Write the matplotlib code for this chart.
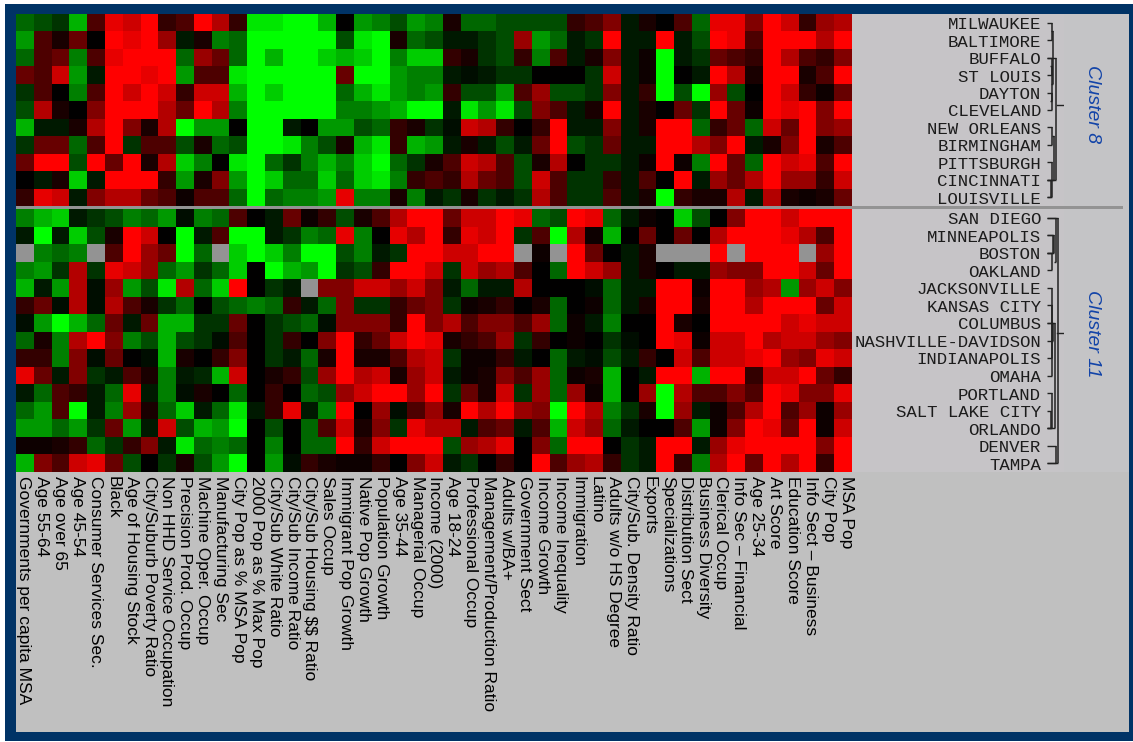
import numpy as np
import matplotlib
matplotlib.use("Agg")
import matplotlib.pyplot as plt
from matplotlib.colors import LinearSegmentedColormap
from matplotlib.patches import Rectangle

n = np.nan
variables = ["Governments per capita MSA", "Age 55-64", "Age over 65", "Age 45-54", "Consumer Services Sec.",
             "Black", "Age of Housing Stock", "City/Suburb Poverty Ratio", "Non HHD Service Occupation",
             "Precision Prod. Occup", "Machine Oper. Occup", "Manufacturing Sec", "City Pop as % MSA Pop",
             "2000 Pop as % Max Pop", "City/Sub White Ratio", "City/Sub Income Ratio", "City/Sub Housing $$ Ratio",
             "Sales Occup", "Immigrant Pop Growth", "Native Pop Growth", "Population Growth", "Age 35-44",
             "Managerial Occup", "Income (2000)", "Age 18-24", "Professional Occup", "Management/Production Ratio",
             "Adults w/BA+", "Government Sect", "Income Growth", "Income Inequality", "Immigration", "Latino",
             "Adults w/o HS Degree", "City/Sub. Density Ratio", "Exports", "Specializations", "Distribution Sect",
             "Business Diversity", "Clerical Occup", "Info Sec \u2013 Financial", "Age 25-34", "Art Score",
             "Education Score", "Info Sect \u2013 Business", "City Pop", "MSA Pop"]

cities_8 = ["MILWAUKEE", "BALTIMORE", "BUFFALO", "ST LOUIS", "DAYTON", "CLEVELAND", "NEW ORLEANS",
            "BIRMINGHAM", "PITTSBURGH", "CINCINNATI", "LOUISVILLE"]
cities_11 = ["SAN DIEGO", "MINNEAPOLIS", "BOSTON", "OAKLAND", "JACKSONVILLE", "KANSAS CITY", "COLUMBUS",
             "NASHVILLE-DAVIDSON", "INDIANAPOLIS", "OMAHA", "PORTLAND", "SALT LAKE CITY", "ORLANDO", "DENVER", "TAMPA"]

# values in tenths: positive = red, negative = green
milwaukee = [-4,-3,-2,-7,3,9,8,10,2,3,10,7,2,-9,-9,-10,-10,-7,0,-6,-5,-3,-6,-5,1,-4,-4,-3,-3,-3,-3,2,3,5,-1,1,0,3,-4,9,9,5,10,8,2,6,7]
baltimore = [-6,3,1,4,0,10,9,10,6,-1,1,-5,-4,-10,-10,-10,-10,-10,-3,-9,-10,1,-4,-3,-1,-1,-2,-3,6,-6,-4,-1,-2,10,-1,-1,10,-1,-3,10,9,3,10,10,10,7,10]
buffalo = [-4,3,4,-5,3,9,10,10,10,-4,6,4,-4,-10,-7,-10,-10,-8,-7,-8,-10,-5,-8,-8,2,1,-2,-3,2,-5,3,-1,1,5,-1,.5,-10,-1,-2,4,3,2,10,7,3,2,5]
st_louis = [4,3,8,-6,-1,10,10,9,10,-6,3,3,-9,-10,-10,-10,-10,-10,4,-10,-10,-6,-5,-5,-1,-.5,-1,-2,-2,0,0,0,-2,8,-1,.5,-10,0,-1,10,7,1,10,10,1,3,10]
dayton = [-2,3,0,-5,3,10,8,10,8,2,8,8,-7,-10,-8,-10,-10,-10,-4,-7,-9,-6,-5,-6,2,-3,-3,-6,3,6,-3,-3,-2,5,-1,2,-10,-3,-10,6,-3,0,10,8,2,.5,4]
cleveland = [-3,7,1,0,5,10,10,10,7,4,10,7,-5,-10,-10,-10,-10,-10,-5,-5,-6,-7,-10,-10,-1,-9,-6,-9,-3,5,3,-1,1,10,-1,1,0,4,-2,10,4,.5,10,9,10,5,10]
new_orleans = [-7,-1,-1,1,7,10,5,1,7,-10,-6,-6,0,-10,-10,-1,0,-6,-6,-3,-4,2,1,-2,-.5,8,7,2,0,2,10,-1,-1,5,-1,1,10,10,-4,2,4,-4,8,4,10,5,6]
birmingham = [-2,4,4,-4,3,10,-2,3,3,-3,1,-4,-3,-10,-10,-9,-5,-3,1,-7,-9,2,-7,-6,-1,1,-1,-3,-1,4,10,-3,-2,4,-1,-1,10,10,7,5,10,-1,1,5,10,1,3]
pittsburgh = [4,10,10,-3,10,4,10,1,7,-8,-5,0,-9,-10,-4,-2,-5,-7,-5,-8,-10,-4,-2,1,3,8,7,3,-3,1,7,0,-2,-2,-1,.5,10,.5,-5,10,4,-4,10,8,9,3,10]
cincinnati = [0,-1,1,-8,-1,10,10,10,2,-6,1,5,-6,-10,-8,-4,-4,-8,-4,-8,-9,-5,2,3,2,7,4,3,-3,8,3,-2,-2,2,-1,3,0,10,-1,6,4,7,10,6,6,2,8]
louisville = [2,9,8,-1,5,7,7,4,3,.5,3,3,-4,-10,-4,-5,-5,-6,9,-5,-5,1,-5,-1,-2,1,-2,-1,-2,7,3,-2,-2,3,-1,1,-10,2,1,1,7,-1,7,1,.5,1,4]

san_diego = [-5,-7,-8,-1,-2,-3,-5,-4,-6,-.5,-5,-4,3,0,-1,4,.5,2,-3,1,3,7,10,10,4,8,8,10,9,-4,-3,10,9,-4,-1,.5,0,-8,-3,0,5,10,10,8,10,10,10]
minneapolis = [-1,-10,-1,-8,-3,1,10,8,0,-10,-1,3,-10,-10,-1,-2,-5,-4,9,-5,0,9,7,10,2,9,8,10,-2,3,-10,7,.5,-7,0,4,0,4,0,7,10,10,10,9,7,3,10]
boston = [n,-5,-4,-5,n,3,10,6,4,-10,-4,n,-8,-10,-8,-5,-10,-10,-3,-5,-1,-2,10,10,8,8,10,10,n,.5,n,10,4,0,-1,1,n,n,n,10,n,10,10,10,n,6,10]
oakland = [-5,-6,-2,7,-2,9,8,6,-4,-6,-2,-4,-8,0,-10,-7,-6,-10,-2,-3,2,10,10,8,-2,8,6,7,3,0,-4,10,8,6,-1,1,0,-1,-1,6,5,5,10,10,8,4,10]
jacksonville = [-7,-1,-6,7,-.5,6,-6,-3,-9,7,-4,-8,10,0,-2,-1,n,5,5,8,8,6,8,5,-1,-4,-1,-1,7,0,0,0,-.5,-4,-1,-1,10,10,.5,10,10,6,7,-6,6,8,5]
kansas_city = [2,4,-.5,7,-.5,7,3,1,-2,-4,0,-3,-4,-5,-4,2,-1,-4,5,-2,-2,2,4,5,-2,.5,1,2,0,1,-4,0,.5,-4,-1,1,10,10,1,10,10,7,10,10,10,4,8]
columbus = [-.5,-6,-10,-7,-4,4,-1,4,-7,-7,-2,-2,4,0,-2,-3,-4,-.5,5,5,5,2,10,5,7,3,5,5,3,6,-4,.5,-1,-5,0,0,10,1,0,10,10,10,10,8,9,8,8]
nashville = [-4,1,-5,7,10,5,-5,-3,-7,-3,-2,-.5,3,0,-2,2,0,5,10,2,4,8,10,9,1,2,3,6,-2,2,0,.5,0,-2,-.5,0,10,9,.5,8,8,10,7,8,8,6,5]
indianapolis = [2,2,-5,5,-.5,4,0,-.5,-7,1,0,2,5,0,-2,-1,-4,1,10,1,1,3,7,8,-2,.5,.5,2,-1,0,-4,-1,-.5,-3,-1,2,0,8,3,8,8,9,10,6,5,9,8]
omaha = [9,4,-1,5,-2,-1,3,1,-5,-1,-1.5,-7,8,0,1,2,-3,6,10,7,8,1,6,8,-1,.5,1,5,3,6,-4,.5,1,-7,0,-1,10,10,-7,10,10,2,8,8,10,4,2]
portland = [-1,-4,3,2,-1,-4,9,-1,-5,-.5,1,0,-4,0,2,0,-4,-3,6,8,10,10,6,10,-2,4,1,8,-2,6,-4,6,.5,-7,0,6,-10,7,3,3,5,3,10,9,5,5,9]
salt_lake = [-4,-6,3,-10,-1,-5,6,1,-4,-8,-1,-4,-9,-1,2,9,-1,-5,10,0,6,-.5,3,6,1,10,7,10,6,5,-10,10,7,-5,-2,1,-10,6,-1,.5,3,7,10,3,6,.5,6]
orlando = [-6,-6,-4,-6,-2,4,-6,-1,8,-3,-7,-6,-10,0,-3,0,-4,3,8,1,5,-2,9,7,7,-1,3,4,-1,3,-7,8,6,-4,-1,0,0,3,-6,.5,5,10,9,4,10,.5,8]
denver = [.5,.5,1,2,-4,-2,2,5,-1,-9,-4,-5,-4,0,-5,0,-4,-4,10,2,8,10,10,10,-3,6,7,9,0,5,-4,10,10,0,-2,-1,10,10,-1,6,9,10,10,10,10,5,10]
tampa = [-7,5,3,8,9,4,-3,0,-2,1,-3,-6,-10,0,-6,-.5,2,1,.5,.5,2,0,5,8,-1,-2,0,2,0,10,3,6,7,2,-2,-1,10,2,-5,7,10,4,10,7,10,2,10]

cluster_8 = [milwaukee, baltimore, buffalo, st_louis, dayton, cleveland, new_orleans, birmingham,
             pittsburgh, cincinnati, louisville]
cluster_11 = [san_diego, minneapolis, boston, oakland, jacksonville, kansas_city, columbus, nashville,
              indianapolis, omaha, portland, salt_lake, orlando, denver, tampa]

# dendrogram brackets: first row, last row, level
tree_8 = [(0, 1, 1), (2, 3, 1), (4, 5, 1), (0.5, 3.5, 1.5), (2.5, 4.5, 1), (6, 7, 1), (8, 10, 1),
          (9, 10, .5), (6.5, 9, 2), (2, 9, 3)]
tree_11 = [(0, 2.5, 3), (1, 2, 1.5), (2, 3, 1), (1, 2, 2), (4, 9, 1), (5, 8, 1.2), (6, 7, 1.5),
           (10, 12, 1), (11, 12, .7), (6, 12, 2.5), (13, 14, 3), (0, 14, 3.5)]
root_8 = 4.7
root_11 = 6.6

W, H = 1133, 742
fig = plt.figure(figsize=(W / 100, H / 100), dpi=100, facecolor="white")


def axes_px(x0, y0, x1, y1, **kw):
    return fig.add_axes([x0 / W, 1 - y1 / H, (x1 - x0) / W, (y1 - y0) / H], **kw)


bg = axes_px(0, 0, W, H)
bg.set_xlim(0, W)
bg.set_ylim(H, 0)
bg.axis("off")
bg.add_patch(Rectangle((5, 4), W - 5, H - 5, fc="#003366", ec="none"))
bg.add_patch(Rectangle((16, 14), 1113, 718, fc="#c0c0c0", ec="none"))
bg.add_patch(Rectangle((852, 14), 212, 458, fc="#c6c4c7", ec="none"))
bg.add_patch(Rectangle((1064, 14), 65, 458, fc="#c4c4c6", ec="none"))
bg.add_patch(Rectangle((16, 206), 1107, 3, fc="#939393", ec="none"))

cmap = LinearSegmentedColormap.from_list("rg", ["#00ff00", "#000000", "#ff0000"])
cmap.set_bad("#939393")

X0, X1 = 16, 852
MONO = "Liberation Mono"
DEND0, STEP = 1047, 2.2


def panel(values, names, tree, root, y0, y1):
    ax = axes_px(X0, y0, X1, y1)
    ax.pcolormesh(np.ma.masked_invalid(np.array(values, float)), cmap=cmap, vmin=-10, vmax=10)
    ax.invert_yaxis()
    ax.axis("off")
    d = axes_px(X1, y0, 1064, y1)
    d.set_xlim(X1, 1064)
    d.set_ylim(len(names) - .5, -.5)
    d.axis("off")
    for i, name in enumerate(names):
        d.text(1041, i + .11, name, family=MONO, fontsize=12.5, ha="right", va="center", color="#1c1c1c")
    for a, b, lev in tree:
        x = DEND0 + 5 + (lev - 1) * STEP
        for r in (a, b):
            x_from = DEND0 if float(r).is_integer() else x - STEP
            d.plot([x_from, x], [r, r], color="#222222", lw=1, solid_capstyle="butt")
        d.plot([x, x], [a, b], color="#222222", lw=1.1, solid_capstyle="butt")
    d.plot([1057, 1063], [root, root], color="#222222", lw=1)


panel(cluster_8, cities_8, tree_8, root_8, 14, 206)
panel(cluster_11, cities_11, tree_11, root_11, 209, 472)

lab = axes_px(15, 472, 855, 733)
lab.set_xlim(0, len(variables))
lab.set_ylim(261, 0)
lab.axis("off")
for i, v in enumerate(variables):
    lab.text(i + .5, 4, v, rotation=-90, rotation_mode="anchor", ha="left", va="center",
             family="Liberation Sans", fontsize=12.5, color="black", parse_math=False)

bg.text(1092, 104, "Cluster 8", rotation=-90, ha="center", va="center", style="italic",
        family="Liberation Sans", fontsize=14, color="#1244a8")
bg.text(1092, 334, "Cluster 11", rotation=-90, ha="center", va="center", style="italic",
        family="Liberation Sans", fontsize=14, color="#1244a8")

fig.savefig("out.png", dpi=100, facecolor="white")
